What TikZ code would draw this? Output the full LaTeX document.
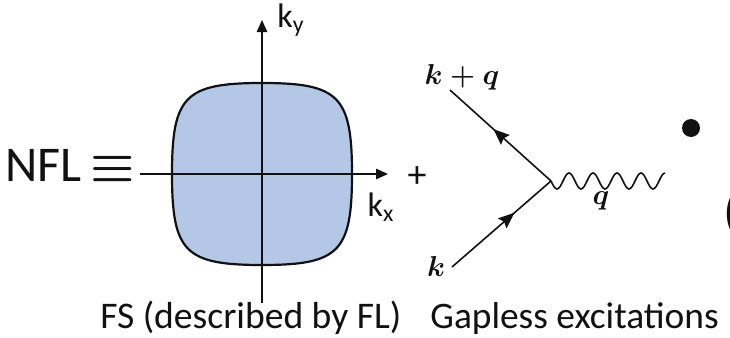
\documentclass[tikz,border=0pt]{standalone}
\usepackage{fontspec}
\usepackage{amsmath}
\usepackage{tikz}
\usetikzlibrary{arrows.meta,positioning,calc,decorations.markings}
\setmainfont{Carlito}
\definecolor{fsblue}{HTML}{B4C7E7}
\definecolor{inkblack}{HTML}{111111}
\tikzset{
  axis/.style={draw=inkblack, line width=0.8pt, -{Triangle[length=6pt,width=5.2pt]}},
  fermi/.style={draw=inkblack, line width=1.1pt, fill=fsblue},
  label/.style={inner sep=0pt, text=inkblack},
  fermion/.style={draw=inkblack, line width=0.8pt, postaction={decorate},
    decoration={markings, mark=at position #1 with {\arrow{Stealth[length=8pt,width=6.5pt,inset=1.2pt]}}}},
  boson/.style={draw=inkblack, line width=0.8pt},
  mathlbl/.style={inner sep=0pt, text=inkblack, font=\fontsize{14}{16}\selectfont\boldmath}
}

\begin{document}
\begin{tikzpicture}[x=0.5pt, y=-0.5pt]
  \useasboundingbox (0,0) rectangle (730,338);

  % Fermi surface
  \begin{scope}[shift={(262,174)}]
    \path[fermi] (0,-91) .. controls (77,-91) and (90,-78) .. (90,0)
      .. controls (90,78) and (77,91) .. (0,91)
      .. controls (-77,91) and (-90,78) .. (-90,0)
      .. controls (-90,-78) and (-77,-91) .. (0,-91) -- cycle;
  \end{scope}

  % axes
  \coordinate (kxL) at (140,174);
  \coordinate (kxR) at (388,174);
  \coordinate (kyB) at (262,303);
  \coordinate (kyT) at (262,20);
  \draw[axis] (kxL) -- (kxR);
  \draw[axis] (kyB) -- (kyT);
  \node[label, font=\fontsize{17}{20}\selectfont] (kx) at (381,207) {k\textsubscript{x}};
  \node[label, font=\fontsize{17}{20}\selectfont] (ky) at (291,20) {k\textsubscript{y}};

  \node[label, anchor=base east, font=\fontsize{25}{29}\selectfont] (nfl) at (135,181) {NFL\,{\boldmath$\equiv$}};
  \node[label, font=\fontsize{19}{22}\selectfont] (plus) at (417,177) {+};

  % vertex
  \coordinate (vtx) at (551,181);
  \coordinate (kq) at (450,90);
  \coordinate (kin) at (452,267);
  \draw[fermion=0.57] (vtx) -- (kq);
  \draw[fermion=0.63] (kin) -- (vtx);
  % photon line
  \draw[boson] (vtx)
    \foreach \w in {1,...,4} { sin ++(6,8) cos ++(6,-8) sin ++(6,-8) cos ++(6,8) }
    sin ++(6,8) cos ++(6,-8) sin ++(6,-8) coordinate (qend);
  \node[mathlbl] (kqlbl) at (462,77) {$k+q$};
  \node[mathlbl] (qlbl) at (601,201) {$q$};
  \node[mathlbl] (klbl) at (436,266) {$k$};

  \node[circle, fill=inkblack, inner sep=0pt, minimum size=9pt] (bullet) at (691,128) {};
  \node[label, anchor=west, font=\fontsize{26}{30}\selectfont] (paren) at (723,214) {(};

  \node[label, anchor=base west, font=\fontsize{18.8}{22}\selectfont] (fslbl) at (100,328) {FS (described by FL)};
  \node[label, anchor=base west, font=\fontsize{18.7}{22}\selectfont] (gaplbl) at (430,328) {Gapless excitations};
\end{tikzpicture}
\end{document}
